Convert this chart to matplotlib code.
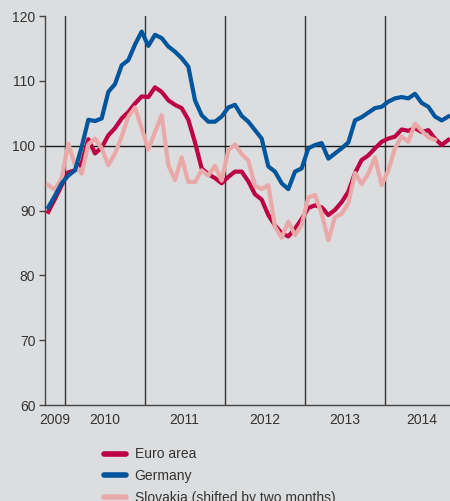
import matplotlib
matplotlib.use("Agg")
import matplotlib.pyplot as plt
from matplotlib.lines import Line2D
import numpy as np

plt.rcParams['font.family'] = ['Liberation Sans', 'DejaVu Sans']

# Monthly data, Oct 2009 - Oct 2014 (months offset from Jan 2010 = 0)
start_month = -3
euro_area = [89.8, 91.8, 93.9, 95.9, 96.2, 97.3, 101.0, 98.8, 99.7, 101.6,
             102.7, 104.2, 105.2, 106.5, 107.6, 107.5, 109.0, 108.3, 107.0, 106.3,
             105.8, 104.0, 100.5, 96.5, 95.6, 95.0, 94.2, 95.2, 96.0, 96.0,
             94.5, 92.5, 91.7, 89.3, 87.7, 86.5, 86.0, 87.2, 88.7, 90.4,
             90.8, 90.5, 89.3, 90.1, 91.3, 92.9, 95.8, 97.8, 98.5, 99.6,
             100.6, 101.1, 101.4, 102.5, 102.3, 102.7, 102.1, 102.4, 101.1, 100.1,
             100.9]
germany = [90.5, 92.3, 94.2, 95.4, 96.2, 99.8, 104.0, 103.8, 104.2, 108.3,
           109.5, 112.4, 113.2, 115.6, 117.6, 115.4, 117.1, 116.6, 115.3, 114.5,
           113.5, 112.2, 107.0, 104.7, 103.7, 103.7, 104.5, 105.9, 106.3, 104.6,
           103.7, 102.4, 101.1, 96.8, 96.0, 94.2, 93.3, 96.0, 96.5, 99.6,
           100.1, 100.4, 98.0, 98.8, 99.6, 100.5, 103.9, 104.4, 105.1, 105.8,
           106.0, 106.8, 107.3, 107.5, 107.3, 108.0, 106.6, 106.0, 104.5, 103.9,
           104.5]
slovakia = [93.9, 93.2, 95.0, 100.3, 97.0, 95.7, 100.2, 101.1, 99.6, 97.0,
            98.8, 101.4, 104.5, 105.9, 102.7, 99.4, 102.1, 104.7, 97.0, 94.7,
            98.2, 94.4, 94.4, 96.2, 95.4, 96.9, 94.6, 99.3, 100.2, 98.7,
            97.7, 93.8, 93.3, 93.9, 87.5, 85.8, 88.3, 86.2, 87.8, 92.0,
            92.4, 89.5, 85.4, 89.0, 89.5, 91.1, 95.8, 94.1, 95.7, 98.2,
            93.9, 96.2, 99.6, 101.4, 100.6, 103.4, 102.3, 101.3, 100.9]

year_labels = ['2009', '2010', '2011', '2012', '2013', '2014']
year_label_pos = [-1.5, 5.9, 17.9, 29.9, 41.9, 53.5]
year_boundaries = [0, 12, 24, 36, 48]
y_ticks = [60, 70, 80, 90, 100, 110, 120]

series_names = ['Euro area', 'Germany', 'Slovakia (shifted by two months)']
colors = {'Euro area': '#bd0041', 'Germany': '#00569c',
          'Slovakia (shifted by two months)': '#e9a9a9'}

bg = '#dcdddf'
txt = '#333333'

fig = plt.figure(figsize=(4.5, 5.01), dpi=100, facecolor=bg)
ax = fig.add_axes([0.1, 0.1916, 0.9, 0.7764])
ax.set_facecolor(bg)

def xs(n):
    return np.arange(n) + start_month + 0.5

for b in year_boundaries:
    ax.axvline(b, color='#333333', lw=1.0, zorder=1)
ax.axhline(100, color='#1a1a1a', lw=1.0, zorder=1)

ax.plot(xs(len(euro_area)), euro_area, color=colors['Euro area'], lw=3.0, zorder=3)
ax.plot(xs(len(slovakia)), slovakia, color=colors['Slovakia (shifted by two months)'], lw=3.0, zorder=4)
ax.plot(xs(len(germany)), germany, color=colors['Germany'], lw=3.0, zorder=5)

ax.set_xlim(-3, 57.75)
ax.set_ylim(60, 120)
ax.set_yticks(y_ticks)
ax.set_yticklabels([str(v) for v in y_ticks])
ax.tick_params(axis='y', length=4, width=1, color='#444444', labelcolor=txt,
               labelsize=10, pad=3)
ax.set_xticks(year_label_pos)
ax.set_xticklabels(year_labels)
ax.tick_params(axis='x', length=0, labelcolor=txt, labelsize=10, pad=6)

for s in ['top', 'right']:
    ax.spines[s].set_visible(False)
for s in ['left', 'bottom']:
    ax.spines[s].set_color('#444444')
    ax.spines[s].set_linewidth(1.0)

handles = [Line2D([0], [0], color=colors[n], lw=4, solid_capstyle='round')
           for n in series_names]
leg = fig.legend(handles, series_names, loc='upper left',
                 bbox_to_anchor=(0.231, 0.107), frameon=False,
                 handlelength=1.6, handletextpad=0.6, labelspacing=0.56,
                 fontsize=10, borderaxespad=0, borderpad=0)
for t in leg.get_texts():
    t.set_color(txt)

fig.savefig('out.png', dpi=100, facecolor=bg)
